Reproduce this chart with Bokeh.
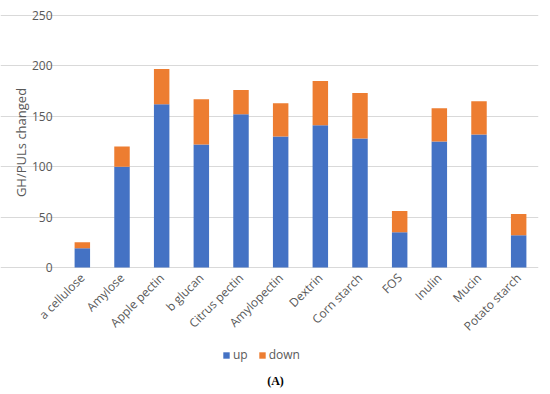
import math
from bokeh.plotting import figure
from bokeh.models import ColumnDataSource, Label, FixedTicker, Range1d
from bokeh.embed import file_html
from bokeh.resources import INLINE

categories = ["a cellulose", "Amylose", "Apple pectin", "b glucan", "Citrus pectin",
              "Amylopectin", "Dextrin", "Corn starch", "FOS", "Inulin", "Mucin", "Potato starch"]
up = [19, 100, 162, 122, 152, 130, 141, 128, 35, 125, 132, 32]
down = [6, 20, 35, 45, 24, 33, 44, 45, 21, 33, 33, 21]
y_ticks = [0, 50, 100, 150, 200, 250]

FONT = "Open Sans"
GREY = "#595959"

pos = list(range(len(categories)))
src = ColumnDataSource(dict(x=pos, cat=categories, up=up, down=down))

# frame covers the whole canvas except the right margin;
# the value area (0..250) occupies 62..538 px horizontally and 15..267 px vertically
x_left = -0.5 - 62 / (476 / len(categories))
px_per_unit = 252 / 250
p = figure(x_range=Range1d(x_left, len(categories) - 0.5),
           y_range=Range1d(-127 / px_per_unit, 250 + 15 / px_per_unit),
           width=550, height=394, output_backend="svg", toolbar_location=None,
           min_border_left=0, min_border_right=12, min_border_top=0, min_border_bottom=0)

p.vbar_stack(["up", "down"], x="x", width=0.39, source=src,
             color=["#4472C4", "#ED7D31"], line_color=None,
             legend_label=["up", "down"])

p.outline_line_color = None
p.xgrid.grid_line_color = None
p.ygrid.grid_line_color = "#D9D9D9"
p.ygrid.grid_line_width = 1
p.yaxis.ticker = FixedTicker(ticks=y_ticks)
p.yaxis.bounds = (0, 250)
p.xaxis.ticker = FixedTicker(ticks=pos)
p.xaxis.major_label_overrides = {i: c for i, c in zip(pos, categories)}

for ax in (p.xaxis[0], p.yaxis[0]):
    ax.axis_line_color = None
    ax.major_tick_line_color = None
    ax.minor_tick_line_color = None
    ax.major_tick_out = 0
    ax.major_tick_in = 0
    ax.major_label_text_font = FONT
    ax.major_label_text_font_size = "12px"
    ax.major_label_text_color = GREY

p.yaxis.fixed_location = -0.5
p.yaxis.major_label_standoff = 10

p.xaxis.fixed_location = 0
p.xaxis.major_label_orientation = math.pi / 4
p.xaxis.major_label_standoff = 8

p.add_layout(Label(x=20, y=252, x_units="screen", y_units="screen", text="GH/PULs changed",
                   angle=math.pi / 2, text_font=FONT, text_font_size="13px",
                   text_color=GREY, text_align="center", text_baseline="middle"))

lg = p.legend[0]
lg.orientation = "horizontal"
lg.location = (222, 31)
lg.border_line_color = None
lg.background_fill_alpha = 0
lg.padding = 0
lg.margin = 0
lg.spacing = 10
lg.glyph_width = 8
lg.glyph_height = 8
lg.label_height = 14
lg.label_width = 0
lg.label_standoff = 3
lg.label_text_font = FONT
lg.label_text_font_size = "12px"
lg.label_text_color = GREY

p.add_layout(Label(x=275, y=14, x_units="screen", y_units="screen", text="(A)",
                   text_font="Times New Roman", text_font_style="bold",
                   text_font_size="12px", text_color="#000000",
                   text_align="center", text_baseline="middle"))

open("out.html", "w").write(file_html(p, INLINE))
